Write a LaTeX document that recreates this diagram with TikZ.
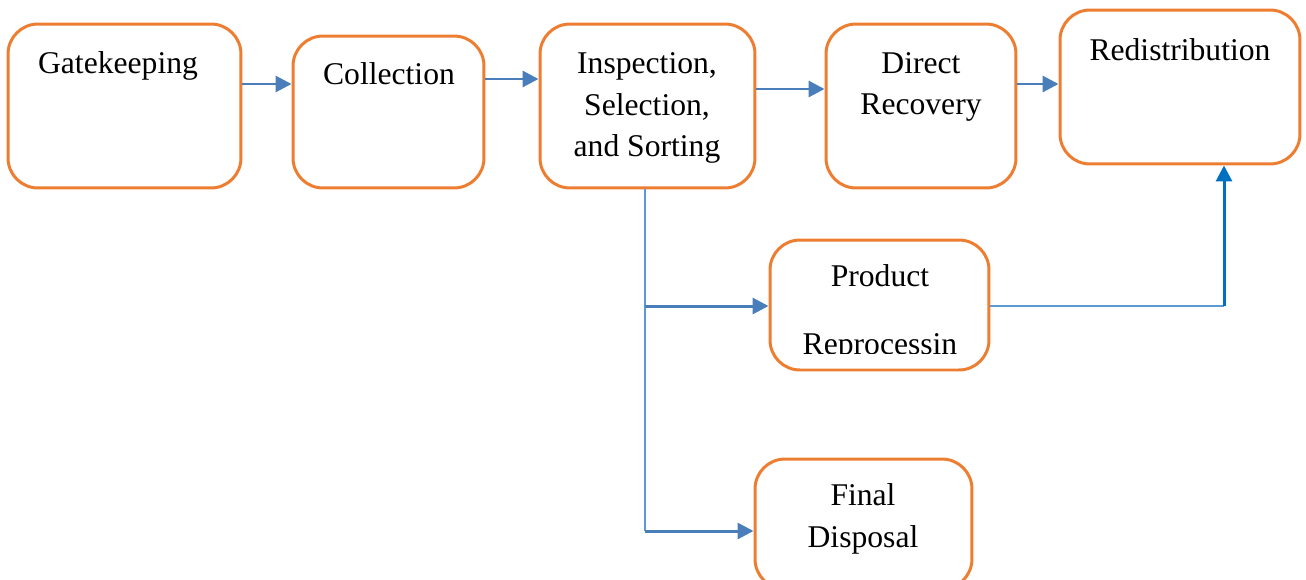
\documentclass[tikz,border=0pt]{standalone}
\usepackage{fontspec}
\setmainfont{Liberation Serif}
\usetikzlibrary{arrows.meta}
\definecolor{boxorange}{HTML}{ED7D31}
\definecolor{arrowblue}{HTML}{4A7EBB}
\definecolor{lineblue}{HTML}{5B9BD5}
\definecolor{upblue}{HTML}{0070C0}

\begin{document}
\begin{tikzpicture}[x=0.02cm, y=-0.02cm, line width=1.7pt,
    box/.style={draw=boxorange, rounded corners=0.6cm, inner sep=0pt},
    lbl/.style={font=\fontsize{18}{23.8}\selectfont, align=center, inner sep=0pt},
    arr/.style={draw=arrowblue, line width=1.7pt, -{Triangle[length=0.32cm, width=0.32cm]}},
    thin/.style={draw=lineblue, line width=0.75pt}]
    \useasboundingbox (0,0) rectangle (1306,579);

    % boxes
    \node[box, minimum width=4.66cm, minimum height=3.28cm] (gate)   at (124.5, 106) {};
    \node[box, minimum width=3.82cm, minimum height=3.04cm] (coll)   at (388.5, 112) {};
    \node[box, minimum width=4.30cm, minimum height=3.28cm] (insp)   at (647.5, 106) {};
    \node[box, minimum width=3.80cm, minimum height=3.28cm] (direct) at (921, 106) {};
    \node[box, minimum width=4.80cm, minimum height=3.08cm] (redis)  at (1180, 87) {};
    \node[box, minimum width=4.38cm, minimum height=2.60cm] (prod)   at (879.5, 305) {};
    \node[box, minimum width=4.34cm, minimum height=2.60cm] (final)  at (863.5, 524) {};

    % texts
    \node[lbl] (gatetxt)   at (118, 66)  {Gatekeeping};
    \node[lbl] (colltxt)   at (389, 74)  {Collection};
    \node[lbl] (insptxt)   at (647, 108) {Inspection,\\Selection,\\and Sorting};
    \node[lbl] (directtxt) at (921, 87)  {Direct\\Recovery};
    \node[lbl] (redistxt)  at (1180, 50) {Redistribution};
    \node[lbl] (prodtxt)   at (880, 276) {Product};
    \begin{scope}
      \clip (770,240) rectangle (989,353);
      \node[lbl] (prodtxt2) at (880, 347) {Reprocessin};
    \end{scope}
    \node[lbl] (finaltxt)  at (863, 519) {Final\\Disposal};

    % connectors
    \coordinate (split1) at (645, 306);
    \coordinate (split2) at (645, 531);
    \coordinate (turn)   at (1224, 306);

    \draw[arr] (gate.east |- 0,84) -- (coll.west |- 0,84);
    \draw[arr] (coll.east |- 0,79) -- (insp.west |- 0,79);
    \draw[arr] (insp.east |- 0,89) -- (direct.west |- 0,89);
    \draw[arr] (direct.east |- 0,84) -- (redis.west |- 0,84);

    \draw[thin] (insp.south -| split1) -- (split2);
    \draw[arr] (split1) -- (prod.west |- split1);
    \draw[arr] (split2) -- (final.west |- split2);

    \draw[thin] (prod.east |- turn) -- (turn);
    \draw[arr, draw=upblue] (turn) -- (redis.south -| turn);
\end{tikzpicture}
\end{document}
